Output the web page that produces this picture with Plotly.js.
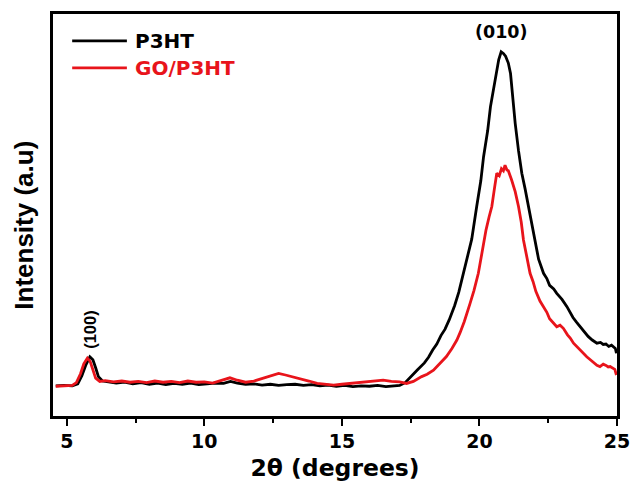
<!DOCTYPE html>
<html>
<head>
<meta charset="utf-8">
<script src="https://cdn.plot.ly/plotly-3.0.1.min.js"></script>
<style>html,body{margin:0;padding:0;background:#fff;}#chart{width:633px;height:482px;}</style>
</head>
<body>
<div id="chart"></div>
<script>
// 2θ (degrees) and intensity (a.u.) for P3HT
var theta_p3ht = [4.6,4.9,5.2,5.4,5.55,5.7,5.84,5.95,6.05,6.15,6.3,6.5,6.8,7.1,7.4,7.7,8.0,8.3,8.6,8.9,9.2,9.5,9.8,10.1,10.4,10.7,10.95,11.2,11.5,11.8,12.1,12.4,12.7,13.0,13.3,13.6,13.9,14.2,14.5,14.8,15.1,15.4,15.7,16.0,16.3,16.6,16.9,17.1,
  17.3,17.5,17.75,18.0,18.15,18.3,18.45,18.6,18.75,18.9,19.1,19.25,19.36,19.55,19.72,19.9,20.05,20.15,20.3,20.4,20.5,20.6,20.7,20.79,20.87,20.95,21.05,21.13,21.22,21.3,21.42,21.54,21.66,21.78,21.9,22.0,22.15,22.33,22.45,22.55,22.7,22.81,22.9,23.0,23.18,23.3,23.4,23.52,23.66,23.8,23.95,24.1,24.27,24.4,24.5,24.6,24.7,24.8,24.87,24.94,24.98];
var int_p3ht = [7.5,7.6,7.5,8.0,10.0,12.8,14.7,14.0,12.0,9.8,8.7,8.5,8.2,8.4,8.0,8.3,7.9,8.2,7.8,8.1,7.9,8.2,7.8,8.0,8.2,8.1,8.6,8.2,7.9,8.0,7.7,7.9,7.6,7.8,7.9,7.6,7.8,7.5,7.7,7.4,7.6,7.3,7.5,7.4,7.6,7.3,7.5,7.6,
  8.3,9.8,11.5,13.2,14.6,16.4,17.9,20.0,21.6,23.9,27.5,30.8,33.8,39.0,44.0,52.1,58.5,64.5,71.0,76.9,80.8,85.5,88.6,90.6,90.2,89.5,87.8,85.2,78.5,72.8,66.0,60.4,56.5,52.1,47.6,43.8,39.0,35.5,34.2,32.5,31.6,30.5,29.9,29.0,27.2,25.6,24.5,23.4,22.2,20.9,19.8,18.9,18.1,18.3,17.8,17.9,17.3,17.6,17.2,16.8,15.6];

// 2θ (degrees) and intensity (a.u.) for GO/P3HT
var theta_go = [4.6,4.9,5.2,5.35,5.5,5.62,5.75,5.85,5.95,6.05,6.2,6.4,6.7,7.0,7.3,7.6,7.9,8.2,8.5,8.8,9.1,9.4,9.7,10.0,10.3,10.6,10.93,11.2,11.5,11.8,12.1,12.4,12.7,12.95,13.2,13.5,13.8,14.1,14.4,14.7,15.0,15.3,15.6,15.9,16.2,16.5,16.8,17.1,17.35,
  17.6,17.9,18.1,18.33,18.55,18.8,19.0,19.18,19.3,19.45,19.66,19.8,19.96,20.1,20.24,20.35,20.45,20.55,20.63,20.72,20.8,20.87,20.93,21.0,21.05,21.17,21.3,21.42,21.52,21.6,21.72,21.84,21.95,22.05,22.2,22.33,22.45,22.55,22.7,22.81,22.93,23.05,23.2,23.3,23.42,23.55,23.65,23.78,23.9,24.03,24.15,24.27,24.38,24.5,24.6,24.68,24.75,24.85,24.92,24.98];
var int_go = [7.4,7.5,7.6,8.3,10.5,13.0,14.4,13.6,11.2,9.4,8.6,8.8,8.5,8.7,8.4,8.6,8.3,8.7,8.4,8.6,8.3,8.7,8.4,8.5,8.2,8.8,9.5,8.9,8.4,8.7,9.3,10.0,10.6,10.2,9.8,9.2,8.7,8.1,7.9,7.7,7.9,8.1,8.4,8.6,8.8,8.9,8.6,8.5,8.1,
  8.6,9.8,10.4,11.4,13.0,14.8,16.8,18.9,20.8,23.5,28.0,31.2,35.5,41.0,46.3,49.5,52.1,56.8,60.4,59.8,61.5,61.0,62.4,61.2,61.0,58.7,55.8,52.1,48.2,43.8,39.2,35.5,33.4,31.0,28.6,27.2,25.8,24.2,23.1,22.2,22.6,21.8,20.2,19.4,18.1,17.2,16.3,15.4,14.75,14.0,13.4,12.6,12.3,12.9,12.6,12.2,12.3,11.8,11.6,10.2];

var seriesNames = ['P3HT', 'GO/P3HT'];
var seriesColors = ['#000000', '#e8141b'];
var xTicks = [5, 10, 15, 20, 25];
var peakLabels = ['(100)', '(010)'];

var hfont = 'DejaVu Sans, Arial, sans-serif';
var vfont = 'Liberation Sans, Arial, sans-serif';

var traces = [
  {x: theta_p3ht, y: int_p3ht, type: 'scatter', mode: 'lines', name: seriesNames[0],
   line: {color: seriesColors[0], width: 2.8}, showlegend: false},
  {x: theta_go, y: int_go, type: 'scatter', mode: 'lines', name: seriesNames[1],
   line: {color: seriesColors[1], width: 2.8}, showlegend: false}
];

// legend block drawn in paper coordinates (plot area 53..617 x 14..416)
var shapes = [
  {type: 'line', xref: 'paper', yref: 'paper', x0: 0.034, x1: 0.131, y0: 0.933, y1: 0.933, line: {color: seriesColors[0], width: 2.8}},
  {type: 'line', xref: 'paper', yref: 'paper', x0: 0.034, x1: 0.131, y0: 0.866, y1: 0.866, line: {color: seriesColors[1], width: 2.8}}
];

var annotations = [
  {xref: 'paper', yref: 'paper', x: 0.142, y: 0.933, xanchor: 'left', yanchor: 'middle', showarrow: false,
   text: '<b>' + seriesNames[0] + '</b>', font: {family: hfont, size: 20, color: seriesColors[0]}},
  {xref: 'paper', yref: 'paper', x: 0.142, y: 0.866, xanchor: 'left', yanchor: 'middle', showarrow: false,
   text: '<b>' + seriesNames[1] + '</b>', font: {family: hfont, size: 20, color: seriesColors[1]}},
  {xref: 'x', yref: 'y', x: 5.84, y: 16.3, xanchor: 'center', yanchor: 'bottom', showarrow: false, textangle: -90,
   text: '<b>' + peakLabels[0] + '</b>', font: {family: vfont, size: 16.5, color: '#000'}},
  {xref: 'x', yref: 'y', x: 20.79, y: 92.5, xanchor: 'center', yanchor: 'bottom', showarrow: false,
   text: '<b>' + peakLabels[1] + '</b>', font: {family: hfont, size: 17.5, color: '#000'}},
  {xref: 'paper', yref: 'paper', x: -0.052, y: 0.475, xanchor: 'center', yanchor: 'middle', showarrow: false, textangle: -90,
   text: '<b>Intensity (a.u)</b>', font: {family: vfont, size: 26, color: '#000'}}
];

var layout = {
  width: 633, height: 482,
  margin: {l: 53, r: 16, t: 14, b: 66, pad: 0},
  paper_bgcolor: '#fff', plot_bgcolor: '#fff',
  showlegend: false,
  xaxis: {
    range: [4.5, 25], tickvals: xTicks, ticktext: xTicks.map(String),
    ticks: 'outside', ticklen: 7, tickwidth: 2, tickcolor: '#000',
    minor: {tickvals: [7.5, 12.5, 17.5, 22.5], ticks: 'outside', ticklen: 4, tickwidth: 2, tickcolor: '#000'},
    showline: true, linewidth: 2.6, linecolor: '#000', mirror: true,
    showgrid: false, zeroline: false,
    tickfont: {family: hfont, size: 19, weight: 'bold', color: '#000'},
    title: {text: '<b>2θ (degrees)</b>', font: {family: hfont, size: 23.5, color: '#000'}, standoff: 8}
  },
  yaxis: {
    range: [0, 100], showticklabels: false, ticks: '',
    showline: true, linewidth: 2.6, linecolor: '#000', mirror: true,
    showgrid: false, zeroline: false
  },
  shapes: shapes,
  annotations: annotations
};

Plotly.newPlot('chart', traces, layout, {displayModeBar: false, staticPlot: true});
</script>
</body>
</html>
